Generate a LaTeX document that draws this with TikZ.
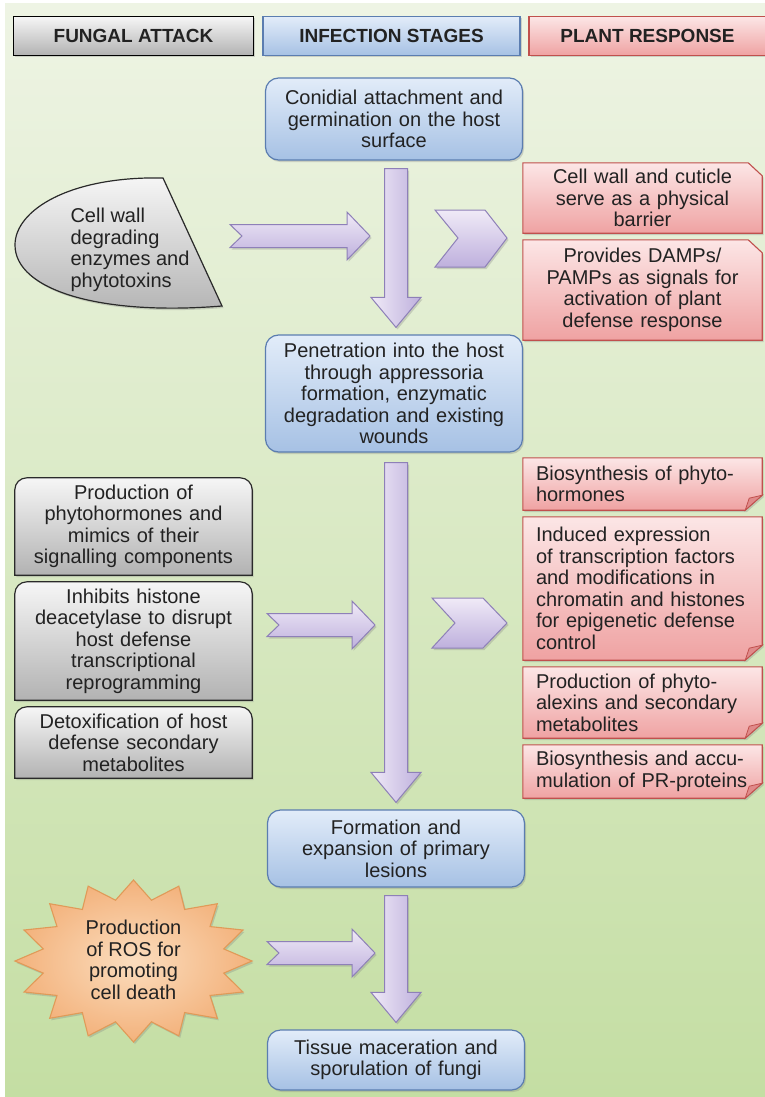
\documentclass[tikz,border=0pt]{standalone}
\usepackage{fontspec}
\setmainfont{Liberation Sans}
\usetikzlibrary{calc,shadows}
\pgfdeclarelayer{bg}
\pgfsetlayers{bg,main}
\definecolor{bgT}{HTML}{EEF4E4}
\definecolor{bgM}{HTML}{DCEAC6}
\definecolor{bgB}{HTML}{C4DEA3}
\definecolor{txtc}{HTML}{222222}
\definecolor{grayT}{HTML}{F6F6F6}
\definecolor{grayB}{HTML}{B2B2B2}
\definecolor{grayD}{HTML}{2A2A2A}
\definecolor{blueT}{HTML}{E2ECF9}
\definecolor{blueB}{HTML}{A6C1E4}
\definecolor{blueD}{HTML}{5B7DB0}
\definecolor{redT}{HTML}{FCE6E6}
\definecolor{redB}{HTML}{EFA2A2}
\definecolor{redD}{HTML}{C0504D}
\definecolor{foldc}{HTML}{E08A8A}
\definecolor{lavT}{HTML}{F0EAF7}
\definecolor{lavB}{HTML}{BEB0DD}
\definecolor{lavD}{HTML}{8E80B8}
\definecolor{starI}{HTML}{FBDDBE}
\definecolor{starO}{HTML}{F3B27C}
\definecolor{starD}{HTML}{E09A58}
\newcommand{\jl}[1]{\makebox[213pt][s]{#1}}
\newcommand{\vArr}[2]{\path[varr] let \p1=(#1), \p2=(#2) in
  (\x1-11.5,\y1) -- (\x1+11.5,\y1) -- (\x1+11.5,\y2+30) -- (\x1+25,\y2+30) -- (\x1,\y2)
  -- (\x1-25,\y2+30) -- (\x1-11.5,\y2+30) -- cycle;}
\newcommand{\hArr}[2]{\path[harr] let \p1=(#1), \p2=(#2) in
  (\x1,\y1+11.5) -- (\x2-23,\y1+11.5) -- (\x2-23,\y1+24) -- (\x2,\y1) -- (\x2-23,\y1-24)
  -- (\x2-23,\y1-11.5) -- (\x1,\y1-11.5) -- (\x1+12,\y1) -- cycle;}
\newcommand{\rtop}[1]{\path[grayshape] let \p1=(#1.south west), \p2=(#1.north east) in
  (\x1,\y1) -- (\x1,\y2-12) arc[start angle=180,end angle=90,radius=12pt]
  -- (\x2-12,\y2) arc[start angle=90,end angle=0,radius=12pt] -- (\x2,\y1) -- cycle;}
\newcommand{\chamf}[1]{\path[redshape] let \p1=(#1.south west), \p2=(#1.north east) in
  (\x1,\y1) -- (\x1,\y2) -- (\x2-14,\y2) -- (\x2,\y2-13) -- (\x2,\y1) -- cycle;}
\newcommand{\foldb}[1]{\path[redshape] let \p1=(#1.south west), \p2=(#1.north east) in
  (\x1,\y1) -- (\x1,\y2) -- (\x2,\y2) -- (\x2,\y1+15) -- (\x2-17,\y1) -- cycle;
  \path[fill=foldc, draw=redD, line width=0.8] let \p1=(#1.south west), \p2=(#1.north east) in
  (\x2,\y1+15) -- (\x2-17,\y1) -- (\x2-13,\y1+12) -- cycle;}
\begin{document}
\begin{tikzpicture}[x=1pt,y=-1pt,
  shd/.style={drop shadow={shadow xshift=1.5pt, shadow yshift=-2pt, opacity=0.3}},
  txt/.style={font=\fontsize{20}{21.5}\selectfont, text=txtc},
  hdr/.style={font=\fontsize{19}{22}\selectfont\bfseries, text=txtc, minimum height=39, inner sep=0, shd},
  stage/.style={txt, rounded corners=13, draw=blueD, line width=1.2, top color=blueT, bottom color=blueB,
    minimum width=257, text width=240, align=center, inner sep=0, shd},
  gbox/.style={txt, minimum width=237, text width=225, align=center, inner sep=0},
  rbox/.style={txt, minimum width=239, text width=225, align=center, inner sep=0},
  lbox/.style={txt, minimum width=239, text width=213, align=left, inner sep=0},
  grayshape/.style={top color=grayT, bottom color=grayB, draw=grayD, line width=1.2, shd},
  redshape/.style={top color=redT, bottom color=redB, draw=redD, line width=1.1, shd},
  varr/.style={left color=lavT, right color=lavB, draw=lavD, line width=1, shd},
  harr/.style={top color=lavT, bottom color=lavB, draw=lavD, line width=1, shd},
]
\useasboundingbox (0,0) rectangle (765,1097);
% headers
\node[hdr, top color=grayT, bottom color=grayB, draw=black, line width=1.4, minimum width=240] (hfa) at (133.5,36) {FUNGAL ATTACK};
\node[hdr, top color=blueT, bottom color=blueB, draw=blueD, line width=1.2, minimum width=257] (his) at (391.5,36) {INFECTION STAGES};
\node[hdr, top color=redT, bottom color=redB, draw=redD, line width=1.2, minimum width=237] (hpr) at (647.5,36) {PLANT RESPONSE};
% infection stages
\node[stage, minimum height=82] (s1) at (394,119) {Conidial attachment and\\germination on the host\\surface};
\node[stage, minimum height=117] (s2) at (394,393.5) {Penetration into the host\\through appressoria\\formation, enzymatic\\degradation and existing\\wounds};
\node[stage, minimum height=77] (s3) at (396,848.5) {Formation and\\expansion of primary\\lesions};
\node[stage, minimum height=60] (s4) at (396,1060) {Tissue maceration and\\sporulation of fungi};
% fungal attack
\node[txt, align=left] (f1) at (130,250) {Cell wall\\degrading\\enzymes and\\phytotoxins};
\node[gbox, minimum height=97] (g1) at (133.5,526.5) {Production of\\phytohormones and\\mimics of their\\signalling components};
\node[gbox, minimum height=118] (g2) at (133.5,641) {Inhibits histone\\deacetylase to disrupt\\host defense\\transcriptional\\reprogramming};
\node[gbox, minimum height=71] (g3) at (133.5,742.5) {Detoxification of host\\defense secondary\\metabolites};
\node[txt, align=center] (st) at (133.5,960) {Production\\of ROS for\\promoting\\cell death};
% plant response
\node[rbox, minimum height=70] (r1) at (642.5,198) {Cell wall and cuticle\\serve as a physical\\barrier};
\node[rbox, minimum height=100] (r2) at (642.5,290) {Provides DAMPs/\\PAMPs as signals for\\activation of plant\\defense response};
\node[lbox, minimum height=52] (r3) at (642.5,484) {Biosynthesis of phyto-\\hormones};
\node[lbox, minimum height=143] (r4) at (642.5,588.5) {Induced expression\\\jl{of transcription factors}\\\jl{and modifications in}\\\jl{chromatin and histones}\\\jl{for epigenetic defense}\\control};
\node[lbox, minimum height=71] (r5) at (642.5,702.5) {\jl{Production of phyto-}\\\jl{alexins and secondary}\\metabolites};
\node[lbox, minimum height=53] (r6) at (642.5,771.5) {\jl{Biosynthesis and accu-}\\mulation of PR-proteins};
% connector end points
\coordinate (a1t) at ($(s1.south)+(2,8)$);
\coordinate (a1b) at ($(s2.north)+(2,-7)$);
\coordinate (a2t) at ($(s2.south)+(2,10)$);
\coordinate (a2b) at ($(s3.north)+(0,-7)$);
\coordinate (a3t) at ($(s3.south)+(0,8)$);
\coordinate (a3b) at ($(s4.north)+(0,-7)$);
\coordinate (h1s) at (230,236);
\coordinate (h1e) at (370,236);
\coordinate (h2s) at (267,625);
\coordinate (h2e) at (375,625);
\coordinate (h3s) at (267,953);
\coordinate (h3e) at (375,953);
\begin{pgfonlayer}{bg}
  \fill[white] (0,0) rectangle (765,1097);
  \shade[top color=bgT, middle color=bgM, bottom color=bgB] (5,4) rectangle (765,1097);
  % fungal shapes
  \path[grayshape] (163,178) .. controls (70,176) and (15,210) .. (15,245)
     .. controls (15,290) and (100,316) .. (222,306) -- cycle;
  \rtop{g1}\rtop{g2}\rtop{g3}
  \path[inner color=starI, outer color=starO, draw=starD, line width=1.1, shd]
    (133.5+118.5,961) \foreach \i in {1,...,31} {
      -- ({133.5+ifthenelse(mod(\i,2)==0,118.5,92)*cos(\i*11.25)},{961+ifthenelse(mod(\i,2)==0,81,62)*sin(\i*11.25)})
    } -- cycle;
  % plant response shapes
  \chamf{r1}\chamf{r2}
  \foldb{r3}\foldb{r4}\foldb{r5}\foldb{r6}
  % arrows
  \vArr{a1t}{a1b}
  \vArr{a2t}{a2b}
  \vArr{a3t}{a3b}
  \hArr{h1s}{h1e}
  \hArr{h2s}{h2e}
  \hArr{h3s}{h3e}
  \path[harr] (435,210) -- (485,210) -- (507,238) -- (485,267) -- (435,267) -- (458,238) -- cycle;
  \path[harr] (432,598) -- (483,598) -- (507,623) -- (483,648) -- (432,648) -- (455,623) -- cycle;
\end{pgfonlayer}
\end{tikzpicture}
\end{document}
